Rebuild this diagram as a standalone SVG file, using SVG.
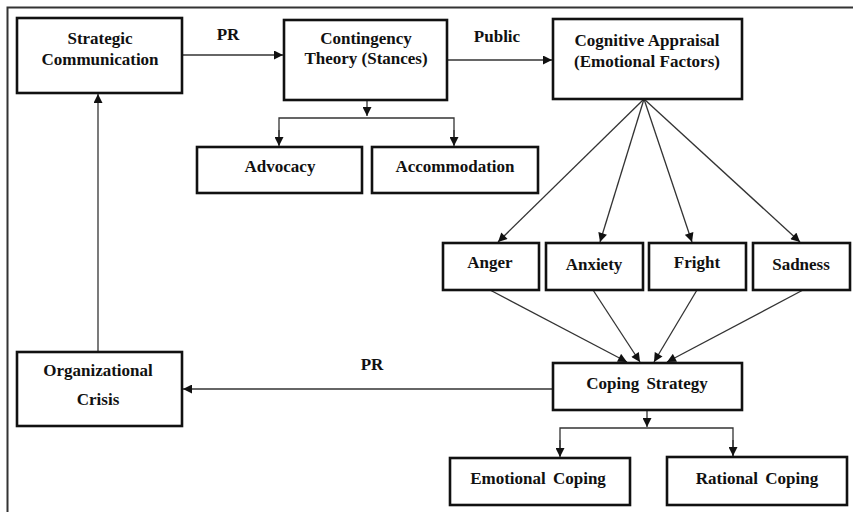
<svg xmlns="http://www.w3.org/2000/svg" width="853" height="512" viewBox="0 0 853 512">
<style>
.box{fill:#fff;stroke:#111;stroke-width:2.6}
.t{font-family:'Liberation Serif','Times New Roman',serif;font-weight:bold;font-size:17px;fill:#111;text-anchor:middle}
.c{fill:none;stroke:#333;stroke-width:1.3}
.frame{fill:none;stroke:#333;stroke-width:2}
</style>
<defs>
<marker id="ah" viewBox="0 0 10 10" refX="10" refY="5" markerWidth="10" markerHeight="9" markerUnits="userSpaceOnUse" orient="auto">
<path d="M0,0 L10,5 L0,10 z" fill="#111"/>
</marker>
</defs>
<rect width="853" height="512" fill="#fff"/>
<path class="frame" d="M7.5,512 V7.5 H853"/>

<g id="connectors">
<line class="c" x1="182" y1="55" x2="283" y2="55" marker-end="url(#ah)"/>
<line class="c" x1="447" y1="60" x2="552" y2="60" marker-end="url(#ah)"/>
<line class="c" x1="367" y1="100" x2="367" y2="116" marker-end="url(#ah)"/>
<path class="c" d="M279,145 V118 H454 V145" />
<line class="c" x1="279" y1="130" x2="279" y2="146" marker-end="url(#ah)"/>
<line class="c" x1="454" y1="130" x2="454" y2="146" marker-end="url(#ah)"/>
<line class="c" x1="644" y1="99" x2="498" y2="242" marker-end="url(#ah)"/>
<line class="c" x1="644" y1="99" x2="600" y2="242" marker-end="url(#ah)"/>
<line class="c" x1="644" y1="99" x2="692" y2="242" marker-end="url(#ah)"/>
<line class="c" x1="644" y1="99" x2="800" y2="242" marker-end="url(#ah)"/>
<line class="c" x1="490" y1="290" x2="627" y2="362" marker-end="url(#ah)"/>
<line class="c" x1="593" y1="290" x2="640" y2="362" marker-end="url(#ah)"/>
<line class="c" x1="697" y1="290" x2="654" y2="362" marker-end="url(#ah)"/>
<line class="c" x1="803" y1="290" x2="667" y2="362" marker-end="url(#ah)"/>
<line class="c" x1="647" y1="410" x2="647" y2="427" marker-end="url(#ah)"/>
<path class="c" d="M560,456 V428 H733 V456"/>
<line class="c" x1="560" y1="440" x2="560" y2="457" marker-end="url(#ah)"/>
<line class="c" x1="733" y1="440" x2="733" y2="456" marker-end="url(#ah)"/>
<line class="c" x1="553" y1="389" x2="183" y2="389" marker-end="url(#ah)"/>
<line class="c" x1="98" y1="352" x2="98" y2="94" marker-end="url(#ah)"/>
<text class="t" x="228" y="40">PR</text>
<text class="t" x="497" y="42">Public</text>
<text class="t" x="372" y="370">PR</text>
</g>

<g id="strategic">
<rect class="box" x="17" y="18" width="165" height="75"/>
<text class="t" x="100" y="44">Strategic</text>
<text class="t" x="100" y="65">Communication</text>
</g>
<g id="contingency">
<rect class="box" x="284" y="20" width="163" height="80"/>
<text class="t" x="366" y="44">Contingency</text>
<text class="t" x="366" y="64">Theory (Stances)</text>
</g>
<g id="cognitive">
<rect class="box" x="553" y="19" width="189" height="80"/>
<text class="t" x="647" y="46">Cognitive Appraisal</text>
<text class="t" x="647" y="67">(Emotional Factors)</text>
</g>
<g id="advocacy">
<rect class="box" x="197" y="147" width="165" height="46"/>
<text class="t" x="280" y="172">Advocacy</text>
</g>
<g id="accommodation">
<rect class="box" x="372" y="147" width="166" height="46"/>
<text class="t" x="455" y="172">Accommodation</text>
</g>
<g id="anger">
<rect class="box" x="443" y="243" width="96" height="47"/>
<text class="t" x="490" y="268">Anger</text>
</g>
<g id="anxiety">
<rect class="box" x="546" y="243" width="97" height="47"/>
<text class="t" x="594" y="270">Anxiety</text>
</g>
<g id="fright">
<rect class="box" x="649" y="243" width="97" height="47"/>
<text class="t" x="697" y="268">Fright</text>
</g>
<g id="sadness">
<rect class="box" x="753" y="243" width="97" height="47"/>
<text class="t" x="801" y="270">Sadness</text>
</g>
<g id="coping">
<rect class="box" x="553" y="363" width="189" height="47"/>
<text class="t" x="647" y="389" word-spacing="3">Coping Strategy</text>
</g>
<g id="emotional">
<rect class="box" x="450" y="458" width="180" height="47"/>
<text class="t" x="538" y="484" word-spacing="3">Emotional Coping</text>
</g>
<g id="rational">
<rect class="box" x="667" y="457" width="180" height="48"/>
<text class="t" x="757" y="484" word-spacing="3">Rational Coping</text>
</g>
<g id="crisis">
<rect class="box" x="17" y="352" width="165" height="74"/>
<text class="t" x="98" y="376">Organizational</text>
<text class="t" x="98" y="405">Crisis</text>
</g>
</svg>
